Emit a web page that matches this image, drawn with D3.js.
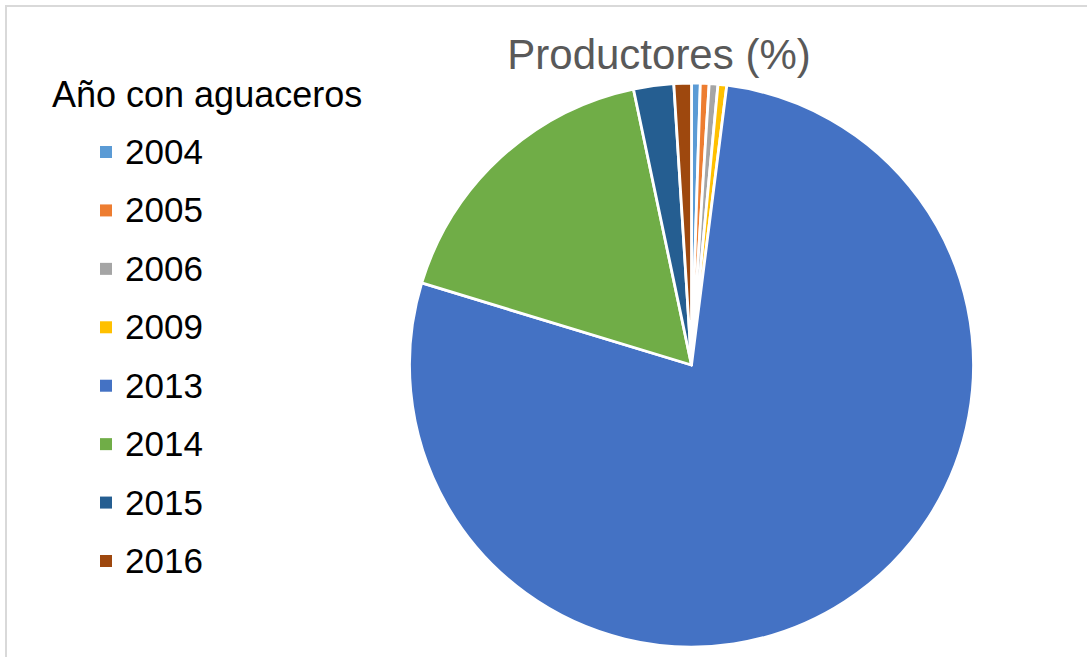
<!DOCTYPE html>
<html>
<head>
<meta charset="utf-8">
<script src="https://cdn.jsdelivr.net/npm/d3@7"></script>
<style>
  html, body { margin: 0; padding: 0; background: #ffffff; }
  svg { display: block; }
  text { font-family: "Liberation Sans", Arial, sans-serif; }
</style>
</head>
<body>
<svg id="chart" width="1087" height="657"></svg>
<script>
// Share of producers by year with heavy showers
const years = ["2004", "2005", "2006", "2009", "2013", "2014", "2015", "2016"];
const shares = [0.5, 0.5, 0.5, 0.5, 77.7, 17.0, 2.3, 1.0];
const colors = ["#5B9BD5", "#ED7D31", "#A5A5A5", "#FFC000", "#4472C4", "#70AD47", "#255E91", "#9E480E"];
const chartTitle = "Productores (%)";
const legendTitle = "Año con aguaceros";

const W = 1087, H = 657;
const svg = d3.select("#chart");

// chart frame
svg.append("rect")
  .attr("x", 6).attr("y", 6)
  .attr("width", W + 20).attr("height", H + 20)
  .attr("fill", "#ffffff")
  .attr("stroke", "#d9d9d9")
  .attr("stroke-width", 2);

// title
svg.append("text")
  .attr("x", 659).attr("y", 69)
  .attr("text-anchor", "middle")
  .attr("font-size", 42)
  .attr("fill", "#595959")
  .text(chartTitle);

// pie
const data = years.map((y, i) => ({ year: y, value: shares[i], color: colors[i] }));
const pie = d3.pie().value(d => d.value).sort(null);
const arc = d3.arc().innerRadius(0).outerRadius(282);

const g = svg.append("g").attr("transform", "translate(691.5,365)");
g.selectAll("path")
  .data(pie(data))
  .join("path")
  .attr("d", arc)
  .attr("fill", d => d.data.color)
  .attr("stroke", "#ffffff")
  .attr("stroke-width", 2.8)
  .attr("stroke-linejoin", "round");

// legend
const lg = svg.append("g");
lg.append("text")
  .attr("x", 52).attr("y", 107)
  .attr("font-size", 36)
  .attr("fill", "#000000")
  .text(legendTitle);

const rowY = d3.scalePoint().domain(years).range([164, 573]);
const items = lg.selectAll("g.item")
  .data(data)
  .join("g")
  .attr("class", "item")
  .attr("transform", d => `translate(0,${rowY(d.year)})`);
items.append("rect")
  .attr("x", 100).attr("y", -18)
  .attr("width", 12).attr("height", 12)
  .attr("fill", d => d.color);
items.append("text")
  .attr("x", 125).attr("y", 0)
  .attr("font-size", 35)
  .attr("fill", "#000000")
  .text(d => d.year);
</script>
</body>
</html>
